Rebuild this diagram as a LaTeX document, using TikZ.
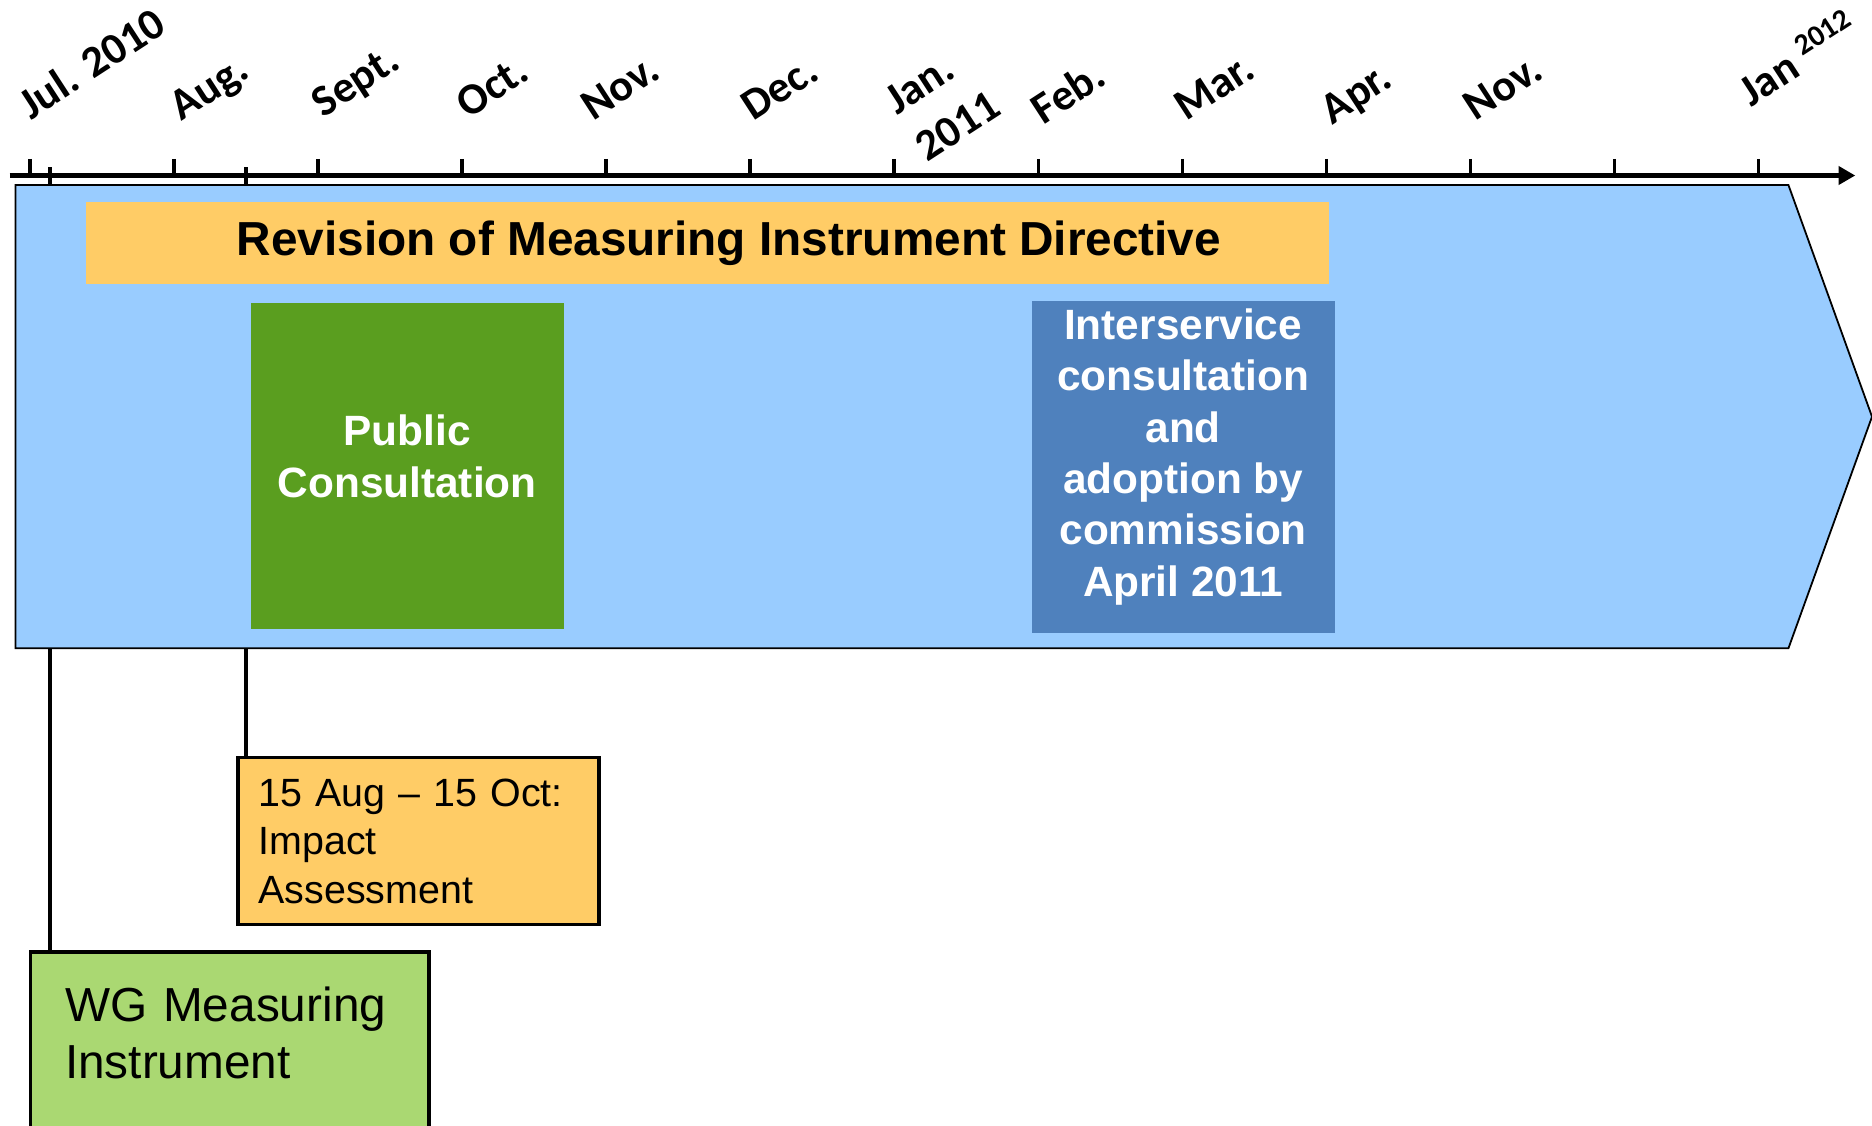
\documentclass[tikz,border=0pt]{standalone}
\usepackage{fontspec}
\setmainfont{Liberation Sans}
\newfontfamily\calib{Carlito}
\usetikzlibrary{arrows.meta,positioning}

\definecolor{SkyBlue}{HTML}{99CCFF}
\definecolor{Amber}{HTML}{FFCC66}
\definecolor{Grass}{HTML}{5A9E1F}
\definecolor{Steel}{HTML}{4F81BD}
\definecolor{Lime}{HTML}{AAD872}

\begin{document}
\begin{tikzpicture}
    [x=1pt,y=-1pt,
     month/.style={anchor=base west, rotate=33, inner sep=0pt,
        font=\calib\bfseries\fontsize{37}{47}\selectfont},
     phase/.style={inner sep=0pt, text=white, align=center,
        font=\bfseries\fontsize{35.5}{43}\selectfont},
     note/.style={draw=black, line width=3pt, anchor=north west, align=left},
     link/.style={line width=3pt},
     tick/.style={line width=3pt}]

    \useasboundingbox (0,0) rectangle (1568,943);
    \clip (0,0) rectangle (1568,943);

    % time axis
    \coordinate (axstart) at (8,147);
    \coordinate (axend) at (1554,147);
    \draw[line width=4pt, -{Triangle[length=14pt,width=15pt]}] (axstart) -- (axend);
    \foreach \k in {0,...,12}
        \draw[tick] (25+120.67*\k,133) -- ++(0,14);

    \node[month] at (26,101) {Jul. 2010};
    \node[month] at (152,102) {Aug.};
    \node[month] at (271,99) {Sept.};
    \node[month] at (392,100) {Oct.};
    \node[month] at (497,102) {Nov.};
    \node[month] at (631,102) {Dec.};
    \node[month, align=left] at (777,136) {Jan.\\2011};
    \node[month] at (874,105) {Feb.};
    \node[month] at (994,102) {Mar.};
    \node[month] at (1116,105) {Apr.};
    \node[month] at (1236,102) {Nov.};
    \node[month] at (1467,90) {Jan {\fontsize{25}{25}\selectfont\raisebox{1.0ex}{2012}}};

    % boxes under the arrow
    \node[note, fill=Amber, text width=268pt, inner xsep=17pt, inner ysep=0pt,
          minimum height=140pt, font=\fontsize{33}{40.5}\selectfont]
        (impact) at (198,633) {15 Aug -- 15 Oct:\\Impact\\Assessment};
    \node[note, fill=Lime, text width=276pt, inner xsep=29pt, inner ysep=29pt,
          text depth=150pt, font=\fontsize{40}{48}\selectfont]
        (wg) at (24,796) {WG Measuring\\Instrument};

    \coordinate (wgtop) at (42,140);
    \coordinate (iatop) at (206,140);
    \draw[link] (wgtop) -- (wgtop |- wg.north);
    \draw[link] (iatop) -- (iatop |- impact.north);

    % the big arrow
    \draw[fill=SkyBlue, line width=1.5pt]
        (13,155) -- (1498,155) -- (1568,349) -- (1498,543) -- (13,543) -- cycle;

    \node[fill=Amber, minimum width=1041pt, minimum height=69pt, inner sep=0pt,
          font=\bfseries\fontsize{40}{48}\selectfont]
        (revision) at (592.5,203.5) {\hspace*{36pt}Revision of Measuring Instrument Directive};
    \node[phase, fill=Grass, minimum width=262pt, minimum height=273pt, text depth=17pt]
        (pubcons) at (341,390.5) {Public\\Consultation};
    \node[phase, fill=Steel, minimum width=254pt, minimum height=278pt, text depth=24pt]
        (interserv) at (991,391) {Interservice\\consultation\\and\\adoption by\\commission\\April 2011};
\end{tikzpicture}
\end{document}
